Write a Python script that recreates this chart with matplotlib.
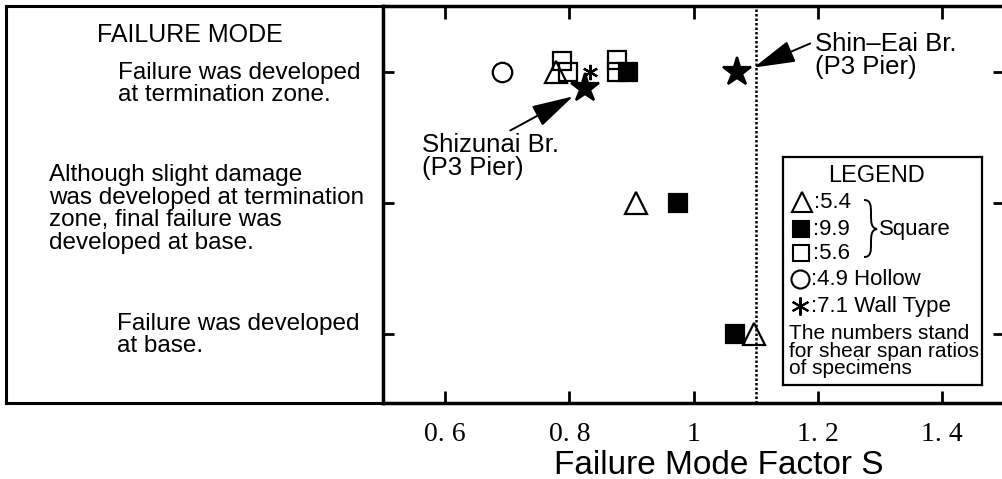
import matplotlib
matplotlib.use("Agg")
import matplotlib.pyplot as plt
from matplotlib.path import Path
import matplotlib.patches as mpatches

W, H = 1002, 479

# failure mode rows: 3 = termination zone, 2 = slight damage then base, 1 = base
tri_s = [0.779, 0.907, 1.097]
tri_mode = [3.0, 2.0, 1.0]
fsq_s = [0.895, 0.975, 1.067]
fsq_mode = [3.0, 2.0, 1.0]
osq_s = [0.788, 0.798, 0.877, 0.877]
osq_mode = [3.08, 3.0, 3.09, 3.0]
circ_s = [0.692]
circ_mode = [3.0]
ast_s = [0.833]
ast_mode = [3.0]
bridge_names = ["Shizunai Br.\n(P3 Pier)", "Shin\u2013Eai Br.\n(P3 Pier)"]
bridge_s = [0.825, 1.070]
bridge_mode = [2.875, 3.0]
s_limit = 1.1

xticks = [0.6, 0.8, 1.0, 1.2, 1.4]
xtick_labels = ["0. 6", "0. 8", "1", "1. 2", "1. 4"]
mode_rows = [3, 2, 1]
mode_texts = [
    "Failure was developed\nat termination zone.",
    "Although slight damage\nwas developed at termination\nzone, final failure was\ndeveloped at base.",
    "Failure was developed\nat base.",
]
legend_labels = [":5.4", ":9.9", ":5.6", ":4.9 Hollow", ":7.1 Wall Type"]
legend_note = "The numbers stand\nfor shear span ratios\nof specimens"

FONT = "Liberation Sans"
plt.rcParams["font.family"] = [FONT, "DejaVu Sans"]


def px_box(x0, y0, x1, y1):
    return [x0 / W, 1 - y1 / H, (x1 - x0) / W, (y1 - y0) / H]


fig = plt.figure(figsize=(W / 100, H / 100), dpi=100)

# ---- left text panel
axt = fig.add_axes(px_box(6, 6, 383, 403))
axt.set_xlim(6, 383)
axt.set_ylim(403, 6)
axt.set_xticks([])
axt.set_yticks([])
for sp in axt.spines.values():
    sp.set_linewidth(2.2)
axt.text(97, 35, "FAILURE MODE", fontsize=18, va="center", ha="left")
text_pos = [(118, 84), (49, 209), (117, 335)]
for (tx, ty), t in zip(text_pos, mode_texts):
    axt.text(tx, ty, t, fontsize=17.5, va="center", ha="left", linespacing=1.02)

# ---- main plot
ax = fig.add_axes(px_box(383, 6, 1004, 403))
ax.set_xlim(0.5, 1.5)
ax.set_ylim(0.47, 3.5)
for sp in ax.spines.values():
    sp.set_linewidth(2.5)

ax.axvline(s_limit, color="k", lw=1.8, ls=(0, (1, 0.8)), zorder=1)

mk = dict(ls="none", color="k", mew=1.6, zorder=3)
ax.plot(circ_s, circ_mode, marker="o", ms=14, mfc="none", **mk)
ax.plot(osq_s, osq_mode, marker="s", ms=13, mfc="none", **mk)
ax.plot(tri_s, tri_mode, marker="^", ms=16, mfc="none", **mk)
ax.plot(fsq_s, fsq_mode, marker="s", ms=13, mfc="k", **mk)
ax.plot(ast_s, ast_mode, marker=(6, 2, 0), ms=11, **mk)
ax.plot(bridge_s, bridge_mode, marker="*", ms=21, mfc="k", **mk)

# bridge annotations (text position, arrow tail)
ann_text = [(0.563, 2.35), (1.196, 3.122)]
ann_tail = [(0.705, 2.55), (1.188, 3.214)]
ann_tip = [(0.806, 2.81), (1.097, 3.03)]
for name, tp, tl, tip in zip(bridge_names, ann_text, ann_tail, ann_tip):
    ax.text(tp[0], tp[1], name, fontsize=18.5, va="center", ha="left",
            linespacing=0.95)
    ax.annotate("", xy=tip, xytext=tl,
                arrowprops=dict(arrowstyle="-|>,head_length=1.3,head_width=0.35",
                                lw=1.4, color="k", shrinkA=0, shrinkB=0,
                                mutation_scale=20))

ax.set_xticks(xticks)
ax.set_xticklabels(xtick_labels, fontfamily="Liberation Serif", fontsize=20)
ax.set_yticks(mode_rows)
ax.set_yticklabels([])
ax.tick_params(axis="x", direction="in", length=9, width=2, top=True, pad=14)
ax.tick_params(axis="y", direction="in", length=8, width=2, right=True)
fig.text(719 / W, 1 - 465 / H, "Failure Mode Factor S", fontsize=24,
         ha="center", va="center")

# ---- legend box
axl = fig.add_axes(px_box(783, 157, 982, 385))
axl.set_xlim(783, 982)
axl.set_ylim(385, 157)
axl.set_xticks([])
axl.set_yticks([])
for sp in axl.spines.values():
    sp.set_linewidth(1.6)
axl.set_zorder(5)
axl.text(877, 176, "LEGEND", fontsize=17, ha="center", va="center")
leg_y = [202, 229, 253, 279, 306]
leg_marker = [dict(marker="^", ms=15, mfc="none"), dict(marker="s", ms=12, mfc="k"),
              dict(marker="s", ms=12, mfc="none"), dict(marker="o", ms=13, mfc="none"),
              dict(marker=(6, 2, 0), ms=13)]
leg_mx = [802, 801, 801, 800, 800]
leg_tx = [814, 813, 813, 811, 811]
for y, m, mx, tx, lab in zip(leg_y, leg_marker, leg_mx, leg_tx, legend_labels):
    axl.plot([mx], [y], ls="none", color="k", mew=1.5, **m)
    axl.text(tx, y, lab, fontsize=16, ha="left", va="center")
axl.text(789, 351, legend_note, fontsize=15, ha="left", va="center", linespacing=0.92)

# brace grouping the square sections
brace = Path([(864, 200), (871, 200), (871, 206), (871, 214),
              (871, 222), (871, 228), (877, 229),
              (871, 230), (871, 236), (871, 244),
              (871, 251), (871, 257), (864, 257)],
             [Path.MOVETO, Path.CURVE4, Path.CURVE4, Path.CURVE4,
              Path.CURVE4, Path.CURVE4, Path.CURVE4,
              Path.CURVE4, Path.CURVE4, Path.CURVE4,
              Path.CURVE4, Path.CURVE4, Path.CURVE4])
axl.add_patch(mpatches.PathPatch(brace, fc="none", ec="k", lw=1.4))
axl.text(879, 229, "Square", fontsize=16, ha="left", va="center")

fig.savefig("out.png", dpi=100)
